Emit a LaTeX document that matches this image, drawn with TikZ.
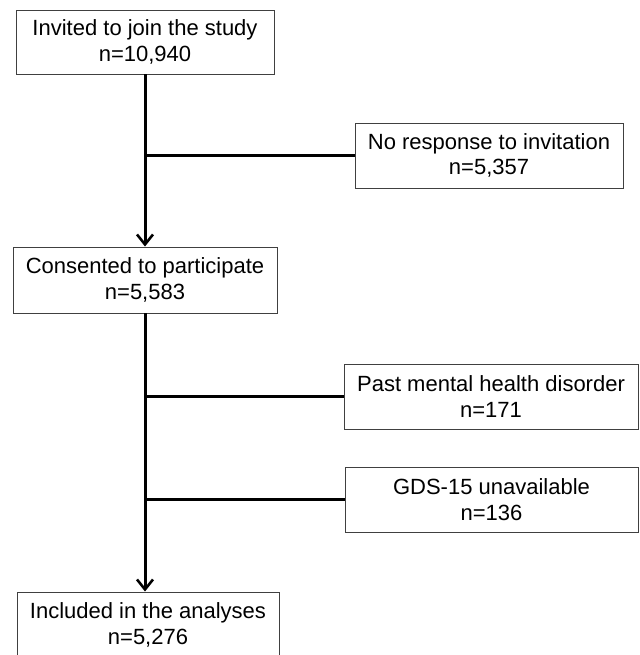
\documentclass[tikz,border=0pt]{standalone}
\usepackage{fontspec}
\setmainfont{Liberation Sans}
\usetikzlibrary{arrows.meta}
\tikzset{
  flowbox/.style={draw=black!75, line width=0.9pt, align=center, inner sep=0pt,
    font=\fontsize{22}{25.5}\selectfont},
  flowline/.style={line width=3pt},
  flowarrow/.style={flowline, -{Straight Barb[length=10pt,width=16pt,line width=2.6pt]}}
}
\begin{document}
\begin{tikzpicture}[x=1pt, y=-1pt]
                        \useasboundingbox (0, 0) rectangle (639, 655);
                        \node [flowbox, minimum width=258pt, minimum height=64pt] (invited) at (145, 42){Invited to join the study\\n=10,940};
                        \node [flowbox, minimum width=268pt, minimum height=65pt] (noresp) at (489, 155.5){No response to invitation\\n=5,357};
                        \node [flowbox, minimum width=264pt, minimum height=66pt] (consent) at (145, 280){Consented to participate\\n=5,583};
                        \node [flowbox, minimum width=294pt, minimum height=65pt] (pastmh) at (491, 396.5){Past mental health disorder\\n=171};
                        \node [flowbox, minimum width=293pt, minimum height=65pt] (gds) at (491.5, 499.5){GDS-15 unavailable\\n=136};
                        \node [flowbox, minimum width=262pt, minimum height=66pt] (included) at (148, 625){Included in the analyses\\n=5,276};
                        \draw [flowarrow] (invited.south) -- (consent.north);
                        \draw [flowline] (invited.south |- noresp.west) -- (noresp.west);
                        \draw [flowarrow] (consent.south) -- (consent.south |- included.north);
                        \draw [flowline] (consent.south |- pastmh.west) -- (pastmh.west);
                        \draw [flowline] (consent.south |- gds.west) -- (gds.west);
                    \end{tikzpicture}
\end{document}
